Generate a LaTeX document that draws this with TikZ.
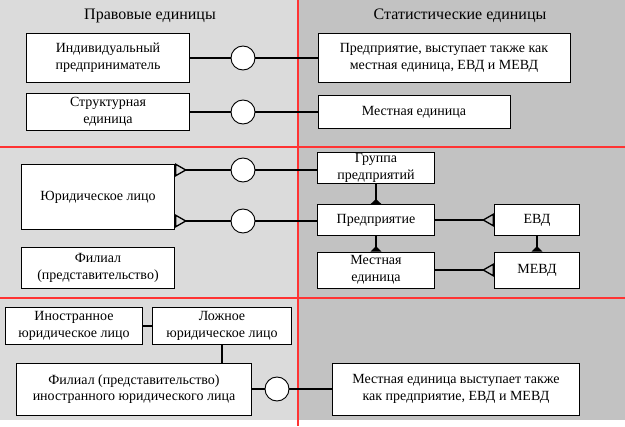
\documentclass[tikz,border=0pt]{standalone}
\usepackage{fontspec}
\setmainfont{Liberation Serif}
\usetikzlibrary{arrows.meta}
\begin{document}
\begin{tikzpicture}[x=0.75pt,y=-0.75pt,font=\fontsize{10.5}{12.5}\selectfont]
\tikzset{unit/.style={draw,fill=white,line width=0.7pt,align=center,inner sep=1pt},
  link/.style={line width=1.8pt},
  ball/.style={circle,draw,fill=white,line width=0.7pt,minimum size=18pt,inner sep=0pt},
  many/.style={-{Triangle[open,reversed,length=9pt,width=10pt,line width=1pt]}},
  sub/.style={-{Triangle[reversed,length=4pt,width=8pt]}}}
\useasboundingbox (0,0) rectangle (625,426);
    \fill[gray!28] (0,0) rectangle (298,420);
    \fill[gray!48] (298,0) rectangle (625,420);
    \draw[red!80,line width=1.4pt] (0,147) -- (625,147) (0,298) -- (625,298) (298,0) -- (298,426);
    \node at (150,16) {\fontsize{12}{14}\selectfont Правовые единицы};
    \node at (460,16) {\fontsize{12}{14}\selectfont Статистические единицы};
    % first band
    \node[unit,minimum width=122pt,minimum height=37pt] (ip) at (108,58) {Индивидуальный\\ предприниматель};
    \node[unit,minimum width=189pt,minimum height=37pt] (ent1) at (444,58) {Предприятие, выступает также как\\ местная единица, ЕВД и МЕВД};
    \node[unit,minimum width=122pt,minimum height=28pt] (su) at (108,112) {Структурная\\ единица};
    \node[unit,minimum width=144pt,minimum height=25pt] (lu1) at (414,112) {Местная единица};
    \node[ball] (b1) at (243,58) {};
    \node[ball] (b2) at (243,112) {};
    \draw[link] (ip) -- (b1) -- (ent1);
    \draw[link] (su) -- (b2) -- (lu1);
    % second band
    \node[unit,minimum width=115pt,minimum height=49pt] (le) at (98,197) {Юридическое лицо};
    \node[unit,minimum width=115pt,minimum height=31pt] (br) at (98,268) {Филиал\\ (представительство)};
    \node[unit,minimum width=88pt,minimum height=23pt] (grp) at (376,168) {Группа\\ предприятий};
    \node[unit,minimum width=88pt,minimum height=23pt] (ent) at (376,220) {Предприятие};
    \node[unit,minimum width=88pt,minimum height=27pt] (lu) at (376,270) {Местная\\ единица};
    \node[unit,minimum width=64pt,minimum height=23pt] (evd) at (537,220) {ЕВД};
    \node[unit,minimum width=64pt,minimum height=27pt] (mevd) at (537,270) {МЕВД};
    \node[ball] (b3) at (243,170) {};
    \node[ball] (b4) at (243,221) {};
    \draw[link,many] (b3) -- (b3 -| le.east);
    \draw[link,many] (b4) -- (b4 -| le.east);
    \draw[link] (b3) -- (b3 -| grp.west);
    \draw[link] (b4) -- (b4 -| ent.west);
    \draw[link,sub] (grp) -- (ent);
    \draw[link,sub] (ent) -- (lu);
    \draw[link,sub] (evd) -- (mevd);
    \draw[link,many] (ent) -- (evd);
    \draw[link,many] (lu) -- (mevd);
    % third band
    \node[unit,minimum width=103pt,minimum height=28pt] (fle) at (74,326) {Иностранное\\ юридическое лицо};
    \node[unit,minimum width=104pt,minimum height=28pt] (fake) at (222,326) {Ложное\\ юридическое лицо};
    \node[unit,minimum width=176pt,minimum height=39pt] (fbr) at (134,389) {Филиал (представительство)\\ иностранного юридического лица};
    \node[unit,minimum width=185pt,minimum height=39pt] (lu3) at (456,389) {Местная единица выступает также\\ как предприятие, ЕВД и МЕВД};
    \node[ball] (b5) at (277,389) {};
    \draw[link] (fle) -- (fake);
    \draw[link] (fake) -- (fake |- fbr.north);
    \draw[link] (fbr) -- (b5) -- (lu3);
\end{tikzpicture}
\end{document}
